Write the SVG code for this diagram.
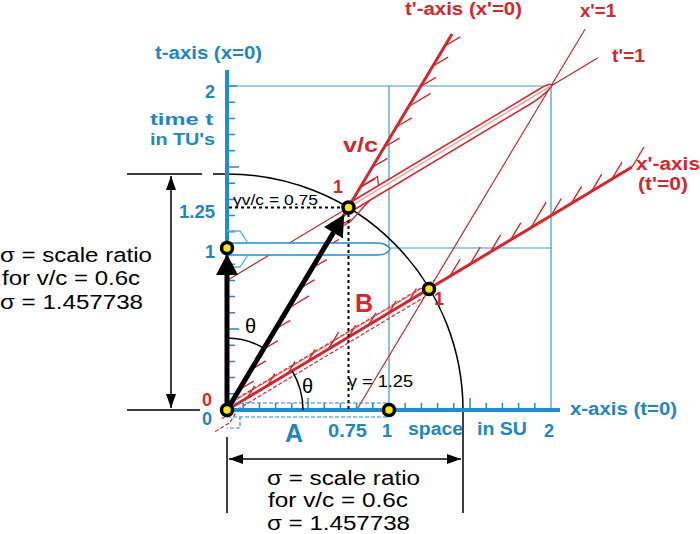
<svg xmlns="http://www.w3.org/2000/svg" xmlns:xlink="http://www.w3.org/1999/xlink" width="700" height="534" viewBox="0 0 700 534">
<style>
.bl{fill:#1d86c8;font-family:"Liberation Sans",Arial,sans-serif;font-weight:bold;font-size:18px}
.rd{fill:#d7262b;font-family:"Liberation Sans",Arial,sans-serif;font-weight:bold;font-size:18px}
.bk{fill:#000;font-family:"Liberation Sans",Arial,sans-serif;font-size:20px}
.sm{fill:#000;font-family:"Liberation Sans",Arial,sans-serif;font-size:15px}
.grid{stroke:#3a9cc8;stroke-width:1.2;fill:none}
.axis{stroke:#1d8ed0;stroke-width:4;fill:none}
.tick{stroke:#1d8ed0;stroke-width:1.5;fill:none}
.rthin{stroke:#c8282e;stroke-width:1.2;fill:none}
.raxis{stroke:#d7262b;stroke-width:3;fill:none}
.hatch{stroke:#d7262b;stroke-width:1.4;fill:none}
.dim{stroke:#000;stroke-width:1.5;fill:none}
.dot{fill:#ffe800;stroke:#000;stroke-width:3.5}
.dotted{stroke:#000;stroke-width:2;stroke-dasharray:3 3;fill:none}
</style>
<defs>
<marker id="ah" viewBox="0 0 14 10" refX="14" refY="5" markerWidth="14" markerHeight="10" markerUnits="userSpaceOnUse" orient="auto-start-reverse">
<path d="M0 0L14 5L0 10Z" fill="#000"/>
</marker>
<g id="rod">
<path d="M227 403H389M227 417H389M227 417H240V428H227" fill="none" vector-effect="non-scaling-stroke" stroke-dasharray="4 2"/>
</g>
<g id="fins">
<path d="M227 231H240L248 243M227 267H240L248 255" fill="none" vector-effect="non-scaling-stroke"/>
</g>
<path id="pill" d="M227 243H377Q387 243 390 249Q387 255 377 255H227Z" vector-effect="non-scaling-stroke"/>
</defs>

<g id="grid">
<path class="grid" d="M227 86H551V410M227 248H551M389 86V410"/>
</g>

<g id="arc">
<path class="dim" d="M213 174H227A236 236 0 0 1 463 410V513"/>
</g>

<g id="connectors">
<path class="rthin" d="M227 280.4L598 57.8M356.6 410L585 29.3"/>
<use xlink:href="#rod" stroke="#d7262b" stroke-width="1.2" transform="matrix(1.25,-0.75,-0.75,1.25,250.75,67.75)"/>
<path d="M231 403L432 282" stroke="#e05a5a" stroke-width="1" fill="none"/>
<path class="raxis" d="M227 410L452 34M227 410L632 167"/>
<path class="hatch" d="M239.15 389.75l14.6 -8.7M251.3 369.5l14.6 -8.7M263.45 349.25l14.6 -8.7M275.6 329l14.6 -8.7M287.75 308.75l21.4 -12.9M299.9 288.5l14.6 -8.7M312.05 268.25l14.6 -8.7M324.2 248l14.6 -8.7M336.35 227.75l14.6 -8.7M360.65 187.25l14.6 -8.7M372.8 167l14.6 -8.7M384.95 146.75l14.6 -8.7M397.1 126.5l14.6 -8.7M409.25 106.25l21.4 -12.9M421.4 86l14.6 -8.7M433.55 65.75l14.6 -8.7M445.7 45.5l14.6 -8.7"/>
<path class="hatch" d="M247.25 397.85l7.2 -12M267.5 385.7l7.2 -12M287.75 373.55l7.2 -12M308 361.4l7.2 -12M328.25 349.25l10.3 -17.1M348.5 337.1l7.2 -12M368.75 324.95l7.2 -12M389 312.8l7.2 -12M409.25 300.65l7.2 -12M449.75 276.35l10.3 -17.1M470 264.2l10.3 -17.1M490.25 252.05l10.3 -17.1M510.5 239.9l10.3 -17.1M530.75 227.75l15.4 -25.7M551 215.6l10.3 -17.1M571.25 203.45l10.3 -17.1M591.5 191.3l10.3 -17.1M611.75 179.15l10.3 -17.1M632 167l12 -20"/>
<use xlink:href="#rod" stroke="#1d8ed0" stroke-width="1.2"/>
<path class="axis" d="M227 410V70M227 410H560"/>
<path class="tick" d="M227 393.8h8M227 377.6h8M227 361.4h8M227 345.2h8M227 329h12M227 312.8h8M227 296.6h8M227 280.4h8M227 264.2h8M227 231.8h8M227 215.6h8M227 199.4h8M227 183.2h8M227 167h12M227 150.8h8M227 134.6h8M227 118.4h8M227 102.2h8M227 86h10"/>
<path class="tick" d="M243.2 410v-7M259.4 410v-7M275.6 410v-7M291.8 410v-7M308 410v-12M324.2 410v-7M340.4 410v-7M356.6 410v-7M372.8 410v-7M405.2 410v-7M421.4 410v-7M437.6 410v-7M453.8 410v-7M470 410v-12M486.2 410v-7M502.4 410v-7M518.6 410v-7M534.8 410v-7"/>
<use xlink:href="#pill" fill="#fff" stroke="#1d8ed0" stroke-width="1.5"/>
<use xlink:href="#fins" stroke="#5ab0dc" stroke-width="1.3"/>
<use xlink:href="#pill" fill="#fff" fill-opacity="0.7" stroke="#d7262b" stroke-width="1.5" transform="matrix(1.25,-0.75,-0.75,1.25,250.75,67.75)"/>
<path d="M348.5 207.5L551 86" stroke="#f2a0a0" stroke-width="1.2"/>
<use xlink:href="#fins" stroke="#d7262b" stroke-width="1.3" transform="matrix(1.25,-0.75,-0.75,1.25,250.75,67.75)"/>
<path class="dotted" d="M348.5 214V410M229 207.5H341"/>
<path class="dim" d="M227 338A72 72 0 0 1 264 348.3M292.1 370.9A76 76 0 0 1 303 410"/>
<path class="dim" d="M127 174H202M127 410H200M227 437V513"/>
<path class="dim" d="M171 176V408" marker-start="url(#ah)" marker-end="url(#ah)"/>
<path class="dim" d="M229 459H461" marker-start="url(#ah)" marker-end="url(#ah)"/>
<path d="M227 410V272" stroke="#000" stroke-width="5" fill="none"/>
<path d="M227 254L216 275L238 275Z" fill="#000"/>
<path d="M227 410L333.4 232.6" stroke="#000" stroke-width="5" fill="none"/>
<path d="M344.2 214.6L342.8 238.3L324 226.9Z" fill="#000"/>
</g>

<g id="dots">
<circle class="dot" cx="227" cy="410" r="5.5"/>
<circle class="dot" cx="227" cy="248" r="5.5"/>
<circle class="dot" cx="348.5" cy="207.5" r="5.5"/>
<circle class="dot" cx="429" cy="289" r="5.5"/>
<circle class="dot" cx="389" cy="410" r="5.5"/>
</g>

<g id="labels">
<text class="bl" x="155" y="59" textLength="107" lengthAdjust="spacingAndGlyphs">t-axis (x=0)</text>
<text class="bl" x="205" y="98">2</text>
<text class="bl" x="150" y="125" style="font-size:16px" textLength="63" lengthAdjust="spacingAndGlyphs">time t</text>
<text class="bl" x="150" y="145" style="font-size:16px" textLength="65" lengthAdjust="spacingAndGlyphs">in TU's</text>
<text class="bl" x="179" y="218" textLength="36" lengthAdjust="spacingAndGlyphs">1.25</text>
<text class="bl" x="205" y="258">1</text>
<text class="rd" x="202" y="406">0</text>
<text class="bl" x="202" y="425">0</text>
<text class="bl" x="285" y="442" style="font-size:25px">A</text>
<text class="bl" x="328" y="437" textLength="39" lengthAdjust="spacingAndGlyphs">0.75</text>
<text class="bl" x="382" y="437">1</text>
<text class="bl" x="408" y="435" textLength="55" lengthAdjust="spacingAndGlyphs">space</text>
<text class="bl" x="477" y="435" textLength="50" lengthAdjust="spacingAndGlyphs">in SU</text>
<text class="bl" x="544" y="437">2</text>
<text class="bl" x="570" y="415" textLength="107" lengthAdjust="spacingAndGlyphs">x-axis (t=0)</text>

<text class="rd" x="405" y="15" textLength="117" lengthAdjust="spacingAndGlyphs">t'-axis (x'=0)</text>
<text class="rd" x="580" y="17" textLength="36" lengthAdjust="spacingAndGlyphs">x'=1</text>
<text class="rd" x="612" y="62" textLength="33" lengthAdjust="spacingAndGlyphs">t'=1</text>
<text class="rd" x="343" y="152" style="font-size:21px" textLength="35" lengthAdjust="spacingAndGlyphs">v/c</text>
<text class="rd" x="636" y="170" textLength="64" lengthAdjust="spacingAndGlyphs">x'-axis</text>
<text class="rd" x="638" y="190" textLength="50" lengthAdjust="spacingAndGlyphs">(t'=0)</text>
<text class="rd" x="333" y="193">1</text>
<text class="rd" x="434" y="305">1</text>
<text class="rd" x="355" y="312" style="font-size:25px">B</text>

<text class="sm" x="233" y="205" textLength="85" lengthAdjust="spacingAndGlyphs">γv/c = 0.75</text>
<text class="sm" x="348" y="387" style="font-size:16px" textLength="65" lengthAdjust="spacingAndGlyphs">γ = 1.25</text>
<text class="bk" x="245" y="333">θ</text>
<text class="bk" x="302" y="393">θ</text>

<text class="bk" x="0" y="262" textLength="152" lengthAdjust="spacingAndGlyphs">σ = scale ratio</text>
<text class="bk" x="2" y="285" textLength="138" lengthAdjust="spacingAndGlyphs">for v/c = 0.6c</text>
<text class="bk" x="0" y="309" textLength="143" lengthAdjust="spacingAndGlyphs">σ = 1.457738</text>

<text class="bk" x="267" y="485" textLength="153" lengthAdjust="spacingAndGlyphs">σ = scale ratio</text>
<text class="bk" x="268" y="507" textLength="140" lengthAdjust="spacingAndGlyphs">for v/c = 0.6c</text>
<text class="bk" x="267" y="530" textLength="143" lengthAdjust="spacingAndGlyphs">σ = 1.457738</text>
</g>
</svg>
